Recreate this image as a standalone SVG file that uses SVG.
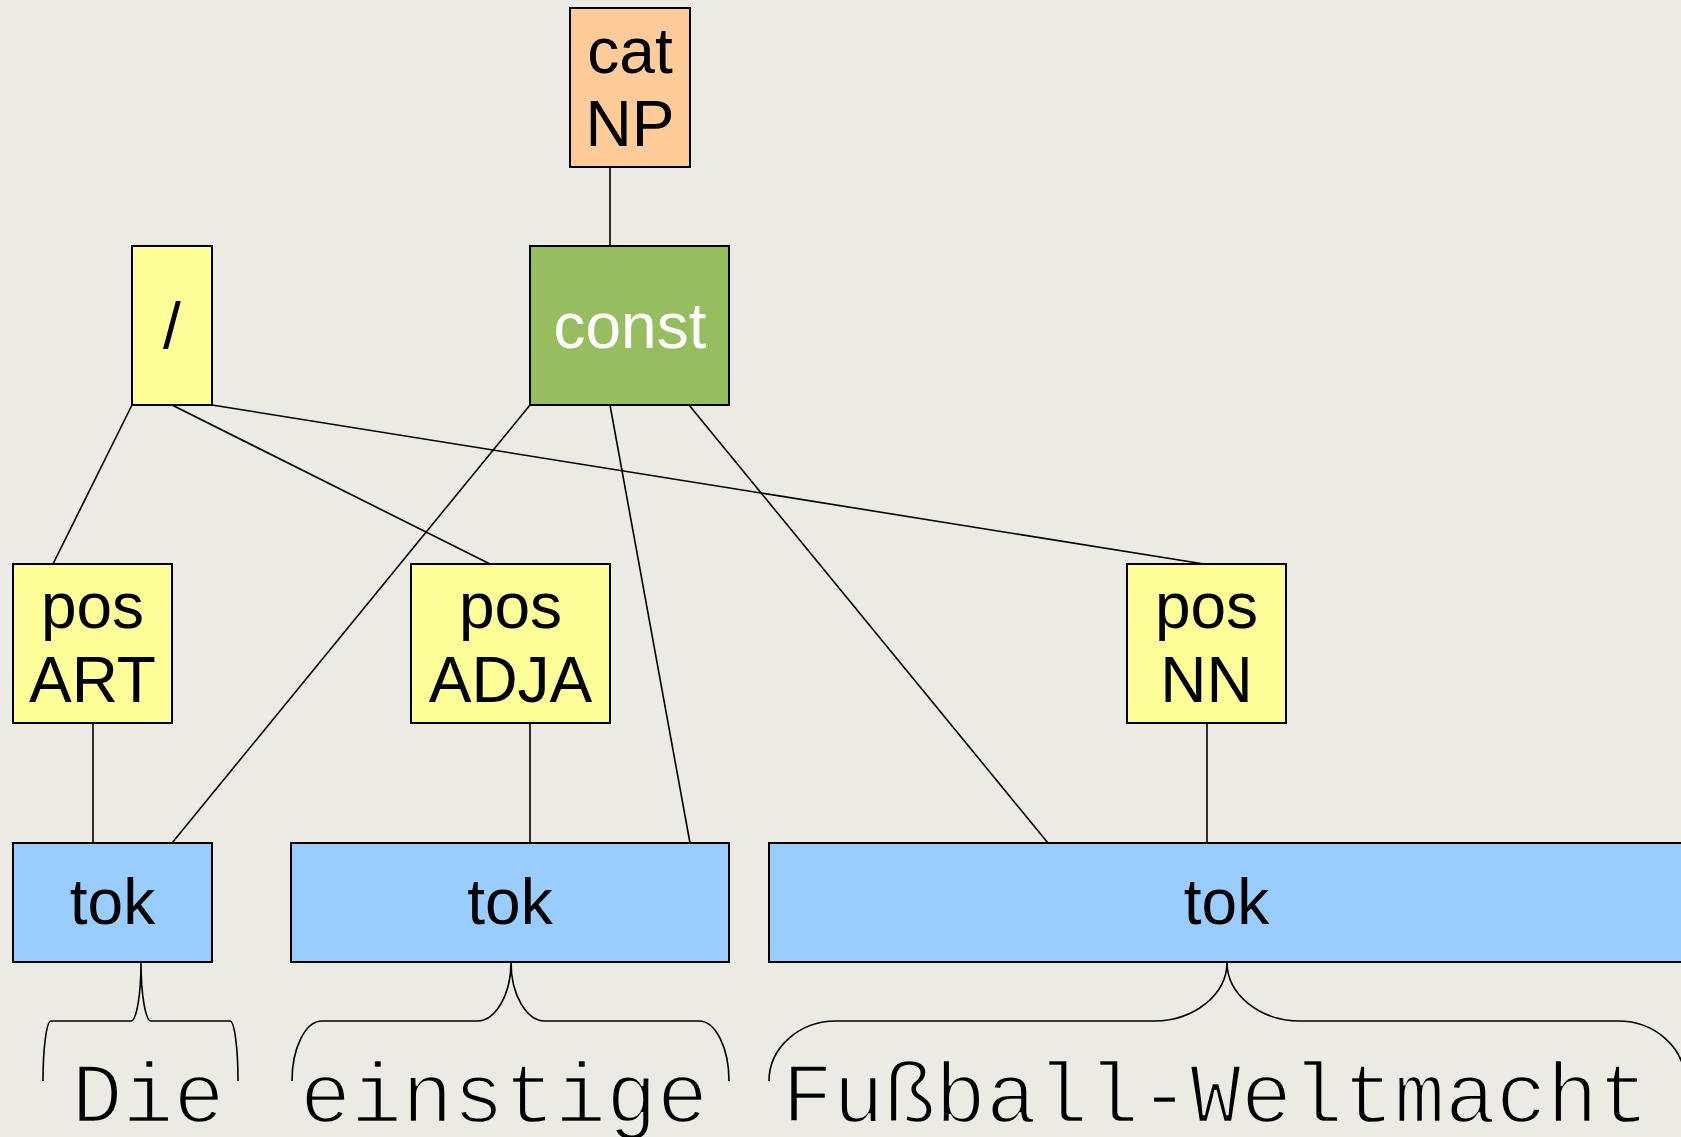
<svg xmlns="http://www.w3.org/2000/svg" width="1681" height="1137" viewBox="0 0 1681 1137">
  <style>
    .box { stroke: #000; stroke-width: 2; }
    .cat { fill: #FFCC99; }
    .const { fill: #96BD5E; }
    .ann { fill: #FFFF99; }
    .tok { fill: #99CCFF; }
    .lbl { font-family: "Liberation Sans", Arial, sans-serif; font-size: 64px; text-anchor: middle; fill: #000; }
    .white { fill: #fff; }
    /* light monospace look: a background-coloured outline slims the strokes */
    .word { font-family: "Liberation Mono", "Courier New", monospace; font-size: 85px; text-anchor: middle; fill: #000; stroke: #EBEBE3; stroke-width: 2.4; paint-order: fill; }
    .edge { stroke: #000; stroke-width: 1.6; fill: none; }
    .brace { stroke: #000; stroke-width: 1.6; fill: none; }
  </style>
  <rect width="1681" height="1137" fill="#EBEBE3"/>

  <!-- connectors -->
  <g id="connectors">
    <line class="edge" x1="610" y1="167" x2="610" y2="246"/>
    <line class="edge" x1="132" y1="405" x2="53" y2="564"/>
    <line class="edge" x1="172" y1="405" x2="490" y2="564"/>
    <line class="edge" x1="212" y1="405" x2="1204" y2="564"/>
    <line class="edge" x1="530" y1="405" x2="172" y2="843"/>
    <line class="edge" x1="610" y1="405" x2="690" y2="843"/>
    <line class="edge" x1="689" y1="405" x2="1048" y2="843"/>
    <line class="edge" x1="93" y1="723" x2="93" y2="843"/>
    <line class="edge" x1="530" y1="723" x2="530" y2="843"/>
    <line class="edge" x1="1207" y1="723" x2="1207" y2="843"/>
  </g>

  <!-- nodes -->
  <g id="node-cat">
    <rect class="box cat" x="570" y="8" width="120" height="159"/>
    <text class="lbl" x="630" y="73">cat</text>
    <text class="lbl" x="630" y="146">NP</text>
  </g>
  <g id="node-const">
    <rect class="box const" x="530" y="246" width="199" height="159"/>
    <text class="lbl white" x="630" y="348">const</text>
  </g>
  <g id="node-slash">
    <rect class="box ann" x="132" y="246" width="80" height="159"/>
    <text class="lbl" x="172" y="348">/</text>
  </g>
  <g id="node-pos-art">
    <rect class="box ann" x="13" y="564" width="159" height="159"/>
    <text class="lbl" x="92.5" y="628">pos</text>
    <text class="lbl" x="92.5" y="702">ART</text>
  </g>
  <g id="node-pos-adja">
    <rect class="box ann" x="411" y="564" width="199" height="159"/>
    <text class="lbl" x="510.5" y="628">pos</text>
    <text class="lbl" x="510.5" y="702">ADJA</text>
  </g>
  <g id="node-pos-nn">
    <rect class="box ann" x="1127" y="564" width="159" height="159"/>
    <text class="lbl" x="1206.5" y="628">pos</text>
    <text class="lbl" x="1206.5" y="702">NN</text>
  </g>
  <g id="node-tok1">
    <rect class="box tok" x="13" y="843" width="199" height="119"/>
    <text class="lbl" x="112.5" y="924">tok</text>
  </g>
  <g id="node-tok2">
    <rect class="box tok" x="291" y="843" width="438" height="119"/>
    <text class="lbl" x="510" y="924">tok</text>
  </g>
  <g id="node-tok3">
    <rect class="box tok" x="769" y="843" width="915" height="119"/>
    <text class="lbl" x="1226.5" y="924">tok</text>
  </g>

  <!-- token text spans -->
  <g id="span-die">
    <path class="brace" d="M43 1081 A8 60 0 0 1 51 1021 H131 A10 59 0 0 0 141 962 A10 59 0 0 0 151 1021 H230 A8 60 0 0 1 238 1081"/>
    <text class="word" x="148" y="1122">Die</text>
  </g>
  <g id="span-einstige">
    <path class="brace" d="M292 1081 A30 60 0 0 1 322 1021 H477 A34 59 0 0 0 511 962 A34 59 0 0 0 545 1021 H699 A30 60 0 0 1 729 1081"/>
    <text class="word" x="504" y="1122">einstige</text>
  </g>
  <g id="span-weltmacht">
    <path class="brace" d="M769 1081 A67 60 0 0 1 836 1021 H1154 A73 59 0 0 0 1227 962 A73 59 0 0 0 1300 1021 H1618 A67 60 0 0 1 1685 1081"/>
    <text class="word" x="1215.5" y="1122">Fußball-Weltmacht</text>
  </g>
</svg>
